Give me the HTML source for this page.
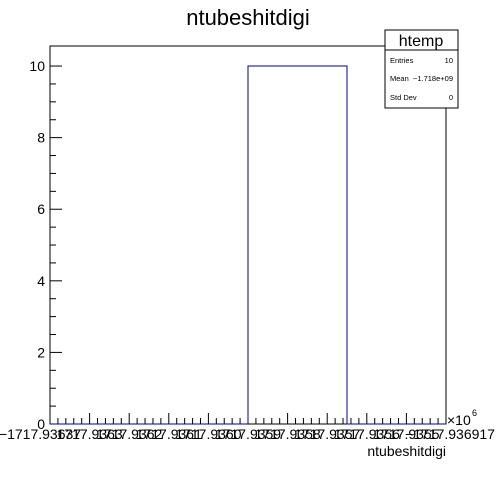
<!DOCTYPE html>
<html><head><style>body{margin:0;background:#fff}svg{font-family:"Liberation Sans",sans-serif}</style></head>
<body>
<svg id="c" width="496" height="472">
<text x="248" y="25" font-size="22" text-anchor="middle">ntubeshitdigi</text>
<rect x="50" y="46" width="396" height="378" fill="none" stroke="#000"/>
<g id="g"></g>
<g>
<rect x="385" y="30" width="73" height="78" fill="#fff" stroke="#000"/>
<line x1="385" y1="50" x2="458" y2="50" stroke="#000"/>
<text x="421" y="46" font-size="16" text-anchor="middle">htemp</text>
<text x="390" y="63" font-size="7.5">Entries</text><text x="453" y="63" font-size="7.5" text-anchor="end">10</text>
<text x="390" y="81" font-size="7.5">Mean</text><text x="453" y="81" font-size="7.5" text-anchor="end">−1.718e+09</text>
<text x="390" y="100" font-size="7.5">Std Dev</text><text x="453" y="100" font-size="7.5" text-anchor="end">0</text>
</g>
<text x="447" y="425" font-size="14">×10</text>
<text x="472" y="416" font-size="9">6</text>
<text x="446" y="456" font-size="14" text-anchor="end">ntubeshitdigi</text>
</svg>
<script>
const binValues=[0,0,10,0];
const yTicks=[0,2,4,6,8,10];
const xTickLabels=["−1717.93637","1717.9363","1717.9362","1717.9361","1717.9360","1717.9359","1717.9358","1717.9357","1717.9356","1717.9355","−1717.936917"];
const X0=50,X1=446,Y0=424,Y1=46,yMax=10.56;
const ys=v=>Y0-(v/yMax)*(Y0-Y1);
const xs=i=>X0+(X1-X0)*i/binValues.length;
const g=document.getElementById('g');
const NS="http://www.w3.org/2000/svg";
function mk(t,a){const e=document.createElementNS(NS,t);for(const k in a)e.setAttribute(k,a[k]);g.appendChild(e);return e;}
yTicks.forEach(v=>{const y=ys(v);
const l=mk('line',{x1:X0,y1:y,x2:X0+12,y2:y,stroke:'#000'});


const t=mk('text',{x:X0-5,y:y+5,'font-size':14,'text-anchor':'end'});t.textContent=v;

});
for(let v=0.5;v<10;v+=0.5){if(v%2===0)continue;const y=ys(v);mk('line',{x1:X0,y1:y,x2:X0+6,y2:y,stroke:'#000'});}
for(let i=0;i<=50;i++){const x=X0+(X1-X0)*i/50;const h=i%5==0?11:6;mk('line',{x1:x,y1:Y0,x2:x,y2:Y0-h,stroke:'#000'});}
xTickLabels.forEach((s,i)=>{const x=X0+(X1-X0)*i/10;
const t=mk('text',{x:i==0?x-10:(i==10?x+4:x),y:439,'font-size':14,'text-anchor':'middle'});t.textContent=s;

});
let d=`M${X0},${Y0}`;
binValues.forEach((v,i)=>{d+=` L${xs(i)},${ys(v)} L${xs(i+1)},${ys(v)}`;});
d+=` L${X1},${Y0}`;
const p=mk('path',{d:d,fill:'none',stroke:'#00008b','stroke-width':1});


</script>
</body></html>
